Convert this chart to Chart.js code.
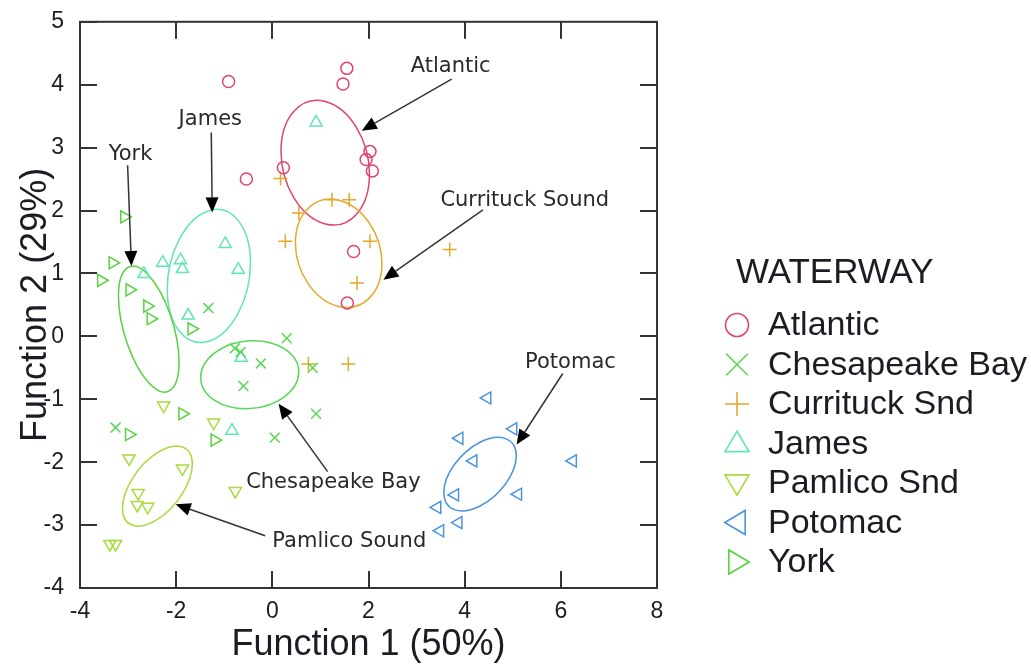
<!DOCTYPE html>
<html>
<head>
<meta charset="utf-8">
<script src="https://cdn.jsdelivr.net/npm/chart.js@4.4.1/dist/chart.umd.min.js"></script>
<style>
  html, body { margin: 0; padding: 0; background: #fff; }
  #wrap { width: 1031px; height: 664px; position: relative; }
</style>
</head>
<body>
<div id="wrap"><canvas id="c" width="1031" height="664"></canvas></div>
<script>
// Discriminant function scores by waterway
const seriesNames = ['Atlantic', 'Chesapeake Bay', 'Currituck Snd', 'James', 'Pamlico Snd', 'Potomac', 'York'];

const pointsAtlantic   = [[-0.91, 4.05], [1.55, 4.26], [1.47, 4.01], [-0.54, 2.50], [0.23, 2.68], [2.03, 2.94], [1.95, 2.81], [2.08, 2.63], [1.69, 1.35], [1.56, 0.53]];
const pointsChesapeake = [[-1.33, 0.45], [0.30, -0.03], [-0.78, -0.19], [-0.66, -0.25], [-0.24, -0.43], [0.84, -0.50], [-0.60, -0.79], [0.91, -1.23], [0.05, -1.61], [-3.26, -1.45]];
const pointsCurrituck  = [[0.17, 2.51], [1.24, 2.17], [1.60, 2.17], [0.55, 1.96], [0.27, 1.51], [2.03, 1.51], [3.69, 1.38], [1.76, 0.85], [0.75, -0.44], [1.58, -0.44]];
const pointsJames      = [[0.91, 3.40], [-0.98, 1.47], [-0.71, 1.06], [-2.28, 1.17], [-1.91, 1.21], [-1.87, 1.07], [-2.67, 0.99], [-1.75, 0.33], [-0.65, -0.34], [-0.84, -1.50]];
const pointsPamlico    = [[-2.26, -1.10], [-1.22, -1.37], [-2.98, -1.94], [-1.87, -2.10], [-0.77, -2.46], [-2.79, -2.49], [-2.81, -2.68], [-2.59, -2.71], [-3.38, -3.30], [-3.26, -3.30]];
const pointsPotomac    = [[4.47, -0.98], [5.01, -1.47], [3.89, -1.62], [4.18, -1.98], [6.25, -1.98], [3.80, -2.52], [5.11, -2.51], [3.43, -2.72], [3.87, -2.96], [3.49, -3.09]];
const pointsYork       = [[-3.08, 1.90], [-3.32, 1.17], [-3.56, 0.89], [-2.97, 0.74], [-2.60, 0.48], [-2.53, 0.28], [-1.68, 0.12], [-1.87, -1.23], [-2.98, -1.56], [-1.20, -1.65]];

// Group ellipses: [centre x, centre y, half-width, half-height, x of topmost point relative to centre]
const ellipseAtlantic   = [1.10, 2.76, 0.92, 0.99, -0.17];
const ellipseChesapeake = [-0.47, -0.61, 1.02, 0.54, 0.08];
const ellipseCurrituck  = [1.38, 1.32, 0.90, 0.86, -0.17];
const ellipseJames      = [-1.32, 0.96, 0.865, 1.057, 0.17];
const ellipsePamlico    = [-2.39, -2.38, 0.726, 0.636, 0.40];
const ellipsePotomac    = [4.32, -2.19, 0.753, 0.584, 0.375];
const ellipseYork       = [-2.57, 0.115, 0.63, 1.0, -0.33];

// Callout labels: text, label anchor (x, y), arrow start (x, y), arrow tip (x, y)
const calloutText  = ['Atlantic', 'Currituck Sound', 'James', 'York', 'Chesapeake Bay', 'Pamlico Sound', 'Potomac'];
const calloutLabel = [[3.71, 4.29], [5.25, 2.16], [-1.29, 3.45], [-2.95, 2.89], [1.27, -2.32], [0.0, -3.26], [6.20, -0.41]];
const calloutFrom  = [[3.73, 4.09], [4.38, 2.01], [-1.27, 3.24], [-3.01, 2.72], [1.15, -2.15], [-0.15, -3.17], [6.04, -0.59]];
const calloutTip   = [[1.86, 3.27], [2.31, 0.90], [-1.25, 1.97], [-2.93, 1.12], [0.13, -1.07], [-2.01, -2.67], [5.08, -1.72]];
const calloutAlign = ['center', 'center', 'center', 'center', 'center', 'left', 'center'];

const xTitle = 'Function 1 (50%)';
const yTitle = 'Function 2 (29%)';
const legendTitle = 'WATERWAY';

const colors = ['#e0456e', '#58d858', '#e3a92b', '#60e4b8', '#a6dc3c', '#4b94e0', '#58d23c'];
const styles = ['circle', 'crossRot', 'cross', 'triangle', 'triangle', 'triangle', 'triangle'];
const rotations = [0, 0, 0, 0, 180, -90, 90];
const radii = [6, 7, 7, 7, 7, 7, 7];

const allPoints = [pointsAtlantic, pointsChesapeake, pointsCurrituck, pointsJames, pointsPamlico, pointsPotomac, pointsYork];
const allEllipses = [ellipseAtlantic, ellipseChesapeake, ellipseCurrituck, ellipseJames, ellipsePamlico, ellipsePotomac, ellipseYork];

const AXIS = '#333333';
const TEXT = '#1c1c24';
const SANS = '"Liberation Sans", Arial, sans-serif';

const datasets = seriesNames.map((name, i) => ({
  label: name,
  data: allPoints[i].map(p => ({ x: p[0], y: p[1] })),
  pointStyle: styles[i],
  pointRotation: rotations[i],
  pointRadius: radii[i],
  pointBorderWidth: 1.5,
  pointBorderColor: colors[i],
  pointBackgroundColor: 'rgba(0,0,0,0)',
  showLine: false
}));

// Group ellipses, drawn in data space through the scales
const ellipsePlugin = {
  id: 'groupEllipses',
  beforeDatasetsDraw(chart) {
    const { ctx, scales: { x, y } } = chart;
    allEllipses.forEach((e, i) => {
      const [cx, cy, w, h, topX] = e;
      const px = x.getPixelForValue(cx), py = y.getPixelForValue(cy);
      const sx = x.getPixelForValue(cx + 1) - px;
      const sy = py - y.getPixelForValue(cy + 1);
      const c = Math.max(-1, Math.min(1, topX / w));
      const s = Math.sqrt(1 - c * c);
      ctx.save();
      ctx.beginPath();
      ctx.save();
      ctx.transform(w * sx, -h * sy * c, 0, -h * sy * s, px, py);
      ctx.arc(0, 0, 1, 0, Math.PI * 2);
      ctx.restore();
      ctx.strokeStyle = colors[i];
      ctx.lineWidth = 1.5;
      ctx.stroke();
      ctx.restore();
    });
  }
};

// Box frame with inward tick marks on all four sides
const framePlugin = {
  id: 'frame',
  beforeDatasetsDraw(chart) {
    const { ctx, chartArea: a, scales: { x, y } } = chart;
    const len = 17;
    ctx.save();
    ctx.strokeStyle = AXIS;
    ctx.lineWidth = 2;
    ctx.strokeRect(a.left, a.top, a.right - a.left, a.bottom - a.top);
    ctx.beginPath();
    x.ticks.forEach(t => {
      const p = Math.round(x.getPixelForValue(t.value));
      ctx.moveTo(p, a.bottom); ctx.lineTo(p, a.bottom - len);
      ctx.moveTo(p, a.top); ctx.lineTo(p, a.top + len);
    });
    y.ticks.forEach(t => {
      const p = Math.round(y.getPixelForValue(t.value));
      ctx.moveTo(a.left, p); ctx.lineTo(a.left + len, p);
      ctx.moveTo(a.right, p); ctx.lineTo(a.right - len, p);
    });
    ctx.stroke();
    ctx.restore();
  }
};

// Callout labels with arrows
const calloutPlugin = {
  id: 'callouts',
  afterDatasetsDraw(chart) {
    const { ctx, scales: { x, y } } = chart;
    ctx.save();
    ctx.font = '21px "DejaVu Sans", sans-serif';
    ctx.fillStyle = '#2a2a2a';
    ctx.textBaseline = 'middle';
    calloutText.forEach((t, i) => {
      ctx.textAlign = calloutAlign[i];
      ctx.fillText(t, x.getPixelForValue(calloutLabel[i][0]), y.getPixelForValue(calloutLabel[i][1]));
      const x0 = x.getPixelForValue(calloutFrom[i][0]), y0 = y.getPixelForValue(calloutFrom[i][1]);
      const x1 = x.getPixelForValue(calloutTip[i][0]), y1 = y.getPixelForValue(calloutTip[i][1]);
      const ang = Math.atan2(y1 - y0, x1 - x0);
      const hl = 15, hw = 6.5;
      const bx = x1 - hl * Math.cos(ang), by = y1 - hl * Math.sin(ang);
      ctx.strokeStyle = '#333';
      ctx.lineWidth = 1.5;
      ctx.beginPath();
      ctx.moveTo(x0, y0);
      ctx.lineTo(bx, by);
      ctx.stroke();
      ctx.fillStyle = '#000';
      ctx.beginPath();
      ctx.moveTo(x1, y1);
      ctx.lineTo(bx + hw * Math.sin(ang), by - hw * Math.cos(ang));
      ctx.lineTo(bx - hw * Math.sin(ang), by + hw * Math.cos(ang));
      ctx.closePath();
      ctx.fill();
      ctx.fillStyle = '#2a2a2a';
    });
    ctx.restore();
  }
};

// Marker glyph used in the legend
function drawMarker(ctx, style, rot, cx, cy, r) {
  ctx.save();
  ctx.translate(cx, cy);
  ctx.rotate(rot * Math.PI / 180);
  ctx.beginPath();
  if (style === 'circle') {
    ctx.arc(0, 0, r, 0, Math.PI * 2);
  } else if (style === 'crossRot') {
    const d = r * 0.9;
    ctx.moveTo(-d, -d); ctx.lineTo(d, d);
    ctx.moveTo(-d, d); ctx.lineTo(d, -d);
  } else if (style === 'cross') {
    ctx.moveTo(-r, 0); ctx.lineTo(r, 0);
    ctx.moveTo(0, -r); ctx.lineTo(0, r);
  } else {
    const h = r * 1.7, half = r;
    ctx.moveTo(0, -h * 0.6);
    ctx.lineTo(half, h * 0.4);
    ctx.lineTo(-half, h * 0.4);
    ctx.closePath();
  }
  ctx.stroke();
  ctx.restore();
}

// Legend block on the right
const legendPlugin = {
  id: 'waterwayLegend',
  afterDraw(chart) {
    const { ctx } = chart;
    const left = 737, textX = 768, titleY = 273, firstY = 325, step = 39.5;
    ctx.save();
    ctx.fillStyle = TEXT;
    ctx.textBaseline = 'middle';
    ctx.textAlign = 'left';
    ctx.font = '35px ' + SANS;
    ctx.fillText(legendTitle, 736, titleY);
    chart.data.datasets.forEach((ds, i) => {
      const yy = firstY + i * step;
      ctx.strokeStyle = ds.pointBorderColor;
      ctx.lineWidth = 1.6;
      drawMarker(ctx, ds.pointStyle, ds.pointRotation, left, yy, ds.pointStyle === 'circle' ? 11.5 : 12);
      ctx.fillStyle = TEXT;
      ctx.font = '34px ' + SANS;
      ctx.fillText(ds.label, textX, yy + 1);
    });
    ctx.restore();
  }
};

new Chart(document.getElementById('c'), {
  type: 'scatter',
  data: { datasets },
  options: {
    responsive: false,
    animation: false,
    events: [],
    layout: { padding: { left: 0, top: 17, right: 374, bottom: 0 } },
    plugins: { legend: { display: false }, tooltip: { enabled: false } },
    scales: {
      x: {
        type: 'linear', min: -4, max: 8,
        ticks: { stepSize: 2, color: TEXT, padding: 2, font: { family: SANS, size: 23 } },
        grid: { display: false },
        border: { display: false },
        title: { display: true, text: xTitle, color: TEXT, font: { family: SANS, size: 36, lineHeight: 1.05 }, padding: { top: 0, bottom: 0 } },
        afterFit(scale) { scale.height = 76; }
      },
      y: {
        type: 'linear', min: -4, max: 5,
        ticks: { stepSize: 1, color: TEXT, padding: 8, font: { family: SANS, size: 23 } },
        grid: { display: false },
        border: { display: false },
        title: { display: true, text: yTitle, color: TEXT, font: { family: SANS, size: 36 }, padding: { top: 14, bottom: 0 } },
        afterFit(scale) { scale.width = 80; }
      }
    }
  },
  plugins: [framePlugin, ellipsePlugin, calloutPlugin, legendPlugin]
});
</script>
</body>
</html>
